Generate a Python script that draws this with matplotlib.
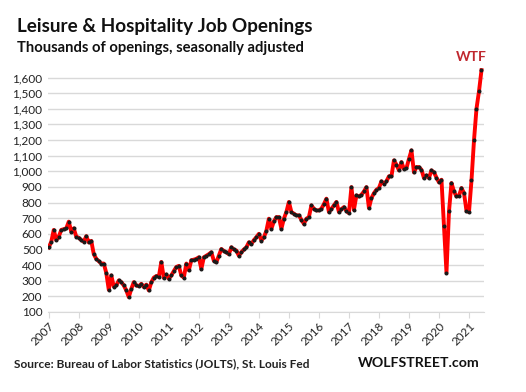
import numpy as np
import matplotlib
matplotlib.use("Agg")
import matplotlib.pyplot as plt

# monthly job openings, thousands (Jan 2007 - Jun 2021)
y2007 = [513, 549, 625, 560, 582, 625, 630, 635, 678, 614, 635, 582]
y2008 = [575, 560, 550, 585, 545, 555, 470, 440, 425, 410, 410, 350]
y2009 = [242, 334, 263, 270, 302, 291, 270, 238, 195, 248, 291, 270]
y2010 = [265, 280, 260, 275, 238, 290, 320, 330, 325, 420, 318, 340]
y2011 = [313, 334, 362, 388, 395, 334, 320, 410, 367, 431, 435, 440]
y2012 = [450, 375, 450, 460, 470, 482, 428, 418, 460, 503, 490, 482]
y2013 = [470, 514, 500, 493, 460, 482, 500, 514, 546, 535, 560, 578]
y2014 = [600, 557, 578, 620, 697, 632, 680, 707, 707, 632, 697, 740]
y2015 = [804, 740, 729, 718, 718, 690, 664, 697, 707, 782, 760, 750]
y2016 = [750, 761, 790, 825, 740, 760, 782, 804, 740, 758, 771, 747]
y2017 = [732, 899, 754, 846, 839, 850, 871, 899, 765, 829, 860, 882]
y2018 = [893, 936, 920, 936, 968, 968, 1070, 1042, 1006, 1059, 1015, 1021]
y2019 = [1079, 1134, 993, 1027, 1027, 1010, 957, 974, 957, 1006, 993, 960]
y2020 = [929, 946, 653, 352, 743, 925, 871, 839, 844, 893, 861, 747]
y2021 = [739, 942, 1198, 1401, 1512, 1647]

years = list(range(2007, 2022))
yticks = list(range(100, 1700, 100))

values = np.array(y2007 + y2008 + y2009 + y2010 + y2011 + y2012 + y2013 + y2014
                  + y2015 + y2016 + y2017 + y2018 + y2019 + y2020 + y2021)
months = np.arange(len(values))

plt.rcParams['font.family'] = ['Lato', 'DejaVu Sans']

fig = plt.figure(figsize=(5.26, 3.92), dpi=100)
ax = fig.add_axes([48/526, 1 - 312/392, 436/526, (312 - 65)/392])

ax.plot(months, values, color='#ff0000', lw=2.8, zorder=3)
ax.plot(months, values, ls='none', marker='o', ms=1.9, color='#1a1a1a', zorder=4)

ax.set_xlim(-0.3, 174)
ax.set_ylim(100, 1680)
ax.set_yticks(yticks)
ax.set_yticklabels([f"{v:,}" for v in yticks])
ax.set_xticks([12*i for i in range(len(years))])
ax.set_xticklabels([str(y) for y in years], rotation=45, ha='right',
                   rotation_mode='anchor')

ax.grid(axis='y', color='#d9d9d9', lw=1)
ax.set_axisbelow(True)
for s in ['top', 'right', 'left']:
    ax.spines[s].set_visible(False)
ax.spines['bottom'].set_color('#d9d9d9')
ax.tick_params(axis='y', length=0, labelsize=8.5, pad=4, colors='#222222')
ax.tick_params(axis='x', length=4, color='#d9d9d9', labelsize=8.5, pad=2,
               labelcolor='#222222')

fig.text(17/526, 1 - 32/392, "Leisure & Hospitality Job Openings",
         fontsize=13.6, fontweight='bold', color='#111111')
fig.text(17/526, 1 - 52/392, "Thousands of openings, seasonally adjusted",
         fontsize=10.6, fontweight='bold', color='#111111')
fig.text(471/526, 1 - 61/392, "WTF", fontsize=10, fontweight='bold',
         color='#c0282f', ha='center')
fig.text(14/526, 1 - 367/392, "Source: Bureau of Labor Statistics (JOLTS), St. Louis Fed",
         fontsize=8.6, fontweight='bold', color='#222222')
fig.text(358/526, 1 - 367/392, "WOLFSTREET.com", fontsize=10.2,
         fontweight='bold', color='#111111')

fig.savefig("out.png", dpi=100)
